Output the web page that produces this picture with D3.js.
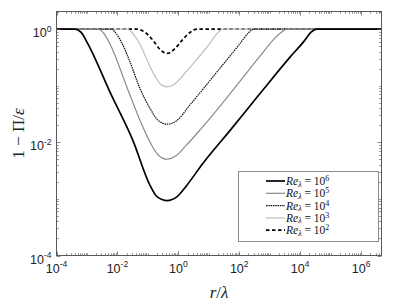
<!DOCTYPE html>
<html>
<head>
<meta charset="utf-8">
<script src="https://cdn.jsdelivr.net/npm/d3@7"></script>
<style>
    body { margin: 0; background: #fff; }
    svg { display: block; }
</style>
</head>
<body>
<div id="chart"></div>
<script>
// values, as log10(r/lambda) and log10(1 - Pi/eps)
const logR6 = [-4.00, -3.39, -3.19, -2.96, -2.24, -1.49, -0.93, -0.70, -0.37, -0.04, 0.25, 0.81, 1.70, 2.68, 3.66, 4.15, 4.35, 4.55, 6.67];
const logY6 = [0, 0, -0.06, -0.27, -1.12, -1.97, -2.76, -2.96, -3.03, -2.96, -2.78, -2.37, -1.79, -1.14, -0.50, -0.20, -0.06, 0, 0];

const logR5 = [-4.00, -2.63, -2.44, -2.24, -1.65, -1.26, -0.93, -0.67, -0.37, -0.08, 0.25, 0.70, 1.70, 2.68, 3.17, 3.37, 3.57, 6.67];
const logY5 = [0, 0, -0.08, -0.27, -1.08, -1.61, -2.00, -2.22, -2.30, -2.24, -2.06, -1.79, -1.14, -0.48, -0.16, -0.06, 0, 0];

const logR4 = [-4.00, -2.21, -2.04, -1.85, -1.58, -1.26, -0.93, -0.67, -0.37, -0.08, 0.38, 1.37, 2.02, 2.28, 2.48, 6.67];
const logY4 = [0, 0, -0.08, -0.25, -0.59, -1.05, -1.40, -1.61, -1.68, -1.63, -1.34, -0.69, -0.26, -0.08, 0, 0];

const logR3 = [-4.00, -1.68, -1.49, -1.26, -0.99, -0.76, -0.57, -0.37, -0.14, 0.12, 0.38, 1.04, 1.27, 1.46, 6.67];
const logY3 = [0, 0, -0.08, -0.27, -0.59, -0.84, -0.98, -1.02, -0.98, -0.84, -0.68, -0.25, -0.08, 0, 0];

const logR2 = [-4.00, -1.39, -1.09, -0.83, -0.60, -0.37, -0.14, 0.12, 0.38, 0.61, 6.67];
const logY2 = [0, 0, -0.06, -0.20, -0.36, -0.43, -0.36, -0.20, -0.06, 0, 0];

const xTickExp = [-4, -2, 0, 2, 4, 6];
const yTickExp = [-4, -2, 0];

const width = 399;
const height = 301;
const margin = { top: 11.5, right: 17.5, bottom: 45.5, left: 56.5 };

const series = [
    { re: 6, r: logR6, y: logY6, color: '#000', width: 1.7, dash: null },
    { re: 5, r: logR5, y: logY5, color: '#8a8a8a', width: 1.2, dash: null },
    { re: 4, r: logR4, y: logY4, color: '#111', width: 1.2, dash: '1.5,0.8' },
    { re: 3, r: logR3, y: logY3, color: '#bdbdbd', width: 1.2, dash: null },
    { re: 2, r: logR2, y: logY2, color: '#000', width: 1.7, dash: '3.5,2.5' }
];

const svg = d3.select('#chart')
    .append('svg')
    .attr('width', width)
    .attr('height', height)
    .attr('viewBox', `0 0 ${width} ${height}`);

const x = d3.scaleLog()
    .domain([1e-4, 10 ** 6.67])
    .range([margin.left, width - margin.right]);

const y = d3.scaleLog()
    .domain([1e-4, 10 ** 0.31])
    .range([height - margin.bottom, margin.top]);

const x0 = margin.left, x1 = width - margin.right;
const y0 = height - margin.bottom, y1 = margin.top;
const axisColor = '#5a5a5a';

// minor/major tick positions on each decade
const ticksFor = (scale) => {
    const [lo, hi] = scale.domain();
    const out = [];
    for (let e = Math.floor(Math.log10(lo)); e <= Math.ceil(Math.log10(hi)); e++) {
        for (let m = 1; m <= 9; m++) {
            const v = m * 10 ** e;
            if (v >= lo * 0.999 && v <= hi) out.push({ v, major: m === 1 && e % 2 === 0 });
        }
    }
    return out;
};

// curves
const line = d3.line()
    .x((d) => x(10 ** d[0]))
    .y((d) => y(10 ** d[1]))
    .curve(d3.curveMonotoneX);

const plot = svg.append('g').attr('class', 'curves');

plot.selectAll('path')
    .data(series.slice().reverse())
    .join('path')
    .attr('d', (s) => line(s.r.map((v, i) => [v, s.y[i]])))
    .attr('fill', 'none')
    .attr('stroke', (s) => s.color)
    .attr('stroke-width', (s) => s.width)
    .attr('stroke-dasharray', (s) => s.dash);

// ticks, inward on all four sides
const tickG = svg.append('g').attr('class', 'ticks')
    .attr('stroke', axisColor)
    .attr('stroke-width', 0.7);

ticksFor(x).forEach((t) => {
    const px = Math.round(x(t.v)) + 0.5;
    const len = t.major ? 4 : 2.2;
    tickG.append('line').attr('x1', px).attr('x2', px).attr('y1', y0).attr('y2', y0 - len);
    tickG.append('line').attr('x1', px).attr('x2', px).attr('y1', y1).attr('y2', y1 + len);
});

ticksFor(y).forEach((t) => {
    const py = Math.round(y(t.v)) + 0.5;
    const len = t.major ? 4 : 2.2;
    tickG.append('line').attr('x1', x0).attr('x2', x0 + len).attr('y1', py).attr('y2', py);
    tickG.append('line').attr('x1', x1).attr('x2', x1 - len).attr('y1', py).attr('y2', py);
});

// box
svg.append('rect')
    .attr('x', x0)
    .attr('y', y1)
    .attr('width', x1 - x0)
    .attr('height', y0 - y1)
    .attr('fill', 'none')
    .attr('stroke', axisColor)
    .attr('stroke-width', 1);

// tick labels
const tickFont = '"Liberation Sans", Arial, sans-serif';

const supLabel = function (e) {
    const t = d3.select(this);
    t.append('tspan').text('10');
    t.append('tspan').attr('dy', -5.5).attr('font-size', 8.5).text(e < 0 ? `-${-e}` : e);
};

svg.append('g')
    .selectAll('text')
    .data(xTickExp)
    .join('text')
    .attr('x', (e) => x(10 ** e))
    .attr('y', y0 + 17)
    .attr('text-anchor', 'middle')
    .attr('font-family', tickFont)
    .attr('font-size', 12.5)
    .attr('fill', '#222')
    .each(supLabel);

svg.append('g')
    .selectAll('text')
    .data(yTickExp)
    .join('text')
    .attr('x', x0 - 5)
    .attr('y', (e) => y(10 ** e) + 8)
    .attr('text-anchor', 'end')
    .attr('font-family', tickFont)
    .attr('font-size', 12.5)
    .attr('fill', '#222')
    .each(supLabel);

// axis labels
const mathFont = '"Liberation Serif", "DejaVu Serif", serif';

const xLabel = svg.append('text')
    .attr('x', (x0 + x1) / 2)
    .attr('y', 298)
    .attr('text-anchor', 'middle')
    .attr('font-family', mathFont)
    .attr('font-size', 17)
    .attr('fill', '#222');
xLabel.append('tspan').attr('font-style', 'italic').text('r');
xLabel.append('tspan').text('/');
xLabel.append('tspan').attr('font-style', 'italic').text('λ');

const yLabel = svg.append('text')
    .attr('transform', `translate(24,${(y0 + y1) / 2}) rotate(-90)`)
    .attr('text-anchor', 'middle')
    .attr('font-family', mathFont)
    .attr('font-size', 17)
    .attr('fill', '#222');
yLabel.append('tspan').text('1 − Π/');
yLabel.append('tspan').attr('font-style', 'italic').text('ε');

// legend
const legend = svg.append('g').attr('class', 'legend');

legend.append('rect')
    .attr('x', 238.5)
    .attr('y', 171.5)
    .attr('width', 140)
    .attr('height', 70)
    .attr('fill', '#fff')
    .attr('stroke', '#8c8c8c')
    .attr('stroke-width', 1);

const rows = legend.selectAll('g.row')
    .data(series)
    .join('g')
    .attr('class', 'row')
    .attr('transform', (s, i) => `translate(0,${181 + i * 12.3})`);

rows.append('line')
    .attr('x1', 266)
    .attr('x2', 285)
    .attr('stroke', (s) => s.color)
    .attr('stroke-width', (s) => s.width)
    .attr('stroke-dasharray', (s) => s.dash);

rows.append('text')
    .attr('x', 286)
    .attr('y', 4)
    .attr('font-family', mathFont)
    .attr('font-size', 11.5)
    .attr('fill', '#111')
    .each(function (s) {
        const t = d3.select(this);
        t.append('tspan').attr('font-style', 'italic').text('Re');
        t.append('tspan').attr('font-style', 'italic').attr('font-size', 8).attr('dy', 1.5).text('λ');
        t.append('tspan').attr('dy', -1.5).text(' = 10');
        t.append('tspan').attr('font-size', 8).attr('dy', -4).text(s.re);
    });
</script>
</body>
</html>
